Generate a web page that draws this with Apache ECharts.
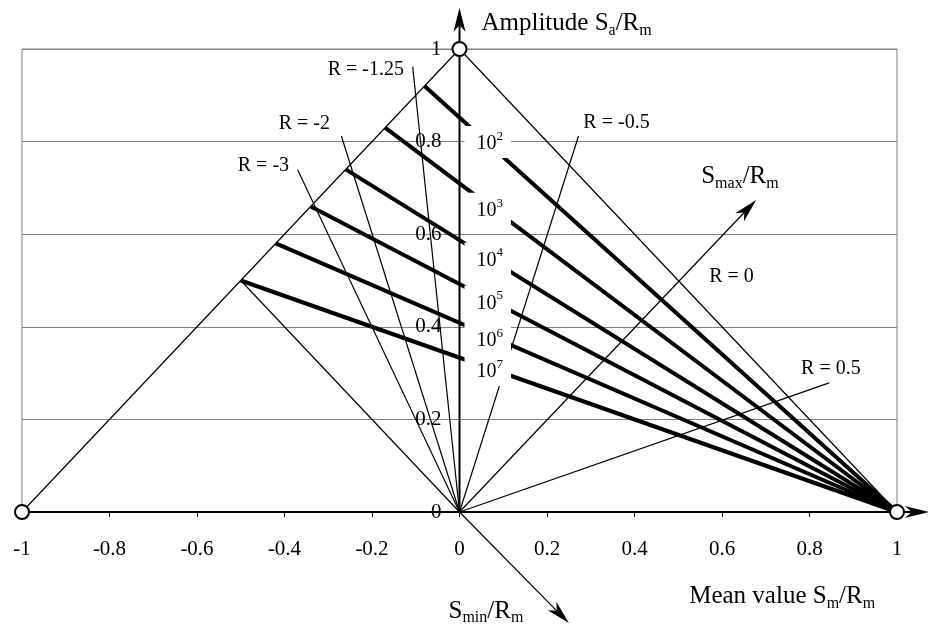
<!DOCTYPE html>
<html><head><meta charset="utf-8">
<script src="https://cdn.jsdelivr.net/npm/echarts@6/dist/echarts.min.js"></script>
<style>html,body{margin:0;padding:0;background:#fff}#c{width:930px;height:625px}</style>
</head><body><div id="c"></div>
<script>
// ---------- data ----------
const xRange = [-1, 1];
const yRange = [0, 1];
const tickStep = 0.2;
const yTickValues = [0, 0.2, 0.4, 0.6, 0.8, 1];
const yTickLabels = ['0', '0.2', '0.4', '0.6', '0.8', '1'];

// constant-life lines (10^n cycles): start on left edge, all end at (1,0)
const lifeExponents = ['2', '3', '4', '5', '6', '7'];
const lifeStarts = [[-0.08, 0.92], [-0.17, 0.83], [-0.26, 0.74], [-0.34, 0.66], [-0.42, 0.58], [-0.5, 0.5]];
const lifeEnd = [1, 0];
const lifeLabelAt = [[0.0114, 0.799], [0.0114, 0.655], [0.0114, 0.5475], [0.0114, 0.4546], [0.0114, 0.3737], [0.0114, 0.3067]];

// envelope triangle
const triangle = [[-1, 0], [0, 1], [1, 0]];

// stress-ratio rays from origin
const rayEnds = [[-0.107, 0.962], [-0.27, 0.812], [-0.37, 0.739], [0.272, 0.812], [0.845, 0.279]];
const smaxZeroRay = [[-0.5, 0.5], [0, 0]];
const rLabels = ['R = -1.25', 'R = -2', 'R = -3', 'R = -0.5', 'R = 0', 'R = 0.5'];
const rLabelAt = [[-0.3014, 0.9546], [-0.4132, 0.8387], [-0.5068, 0.7484], [0.2831, 0.8408], [0.5708, 0.5082], [0.7808, 0.3103]];

// arrows [x0, y0, x1, y1]
const axisArrows = [[0, 0, 0, 1.089], [-1, 0, 1.073, 0]];
const stressArrows = [[0, 0, 0.678, 0.674], [0, 0, 0.25, -0.24]];

// special points
const circles = [[-1, 0], [0, 1], [1, 0]];

// axis titles (rich text)
const titleTexts = ['Amplitude S{s|a}/R{s|m}', 'Mean value S{s|m}/R{s|m}', 'S{s|max}/R{s|m}', 'S{s|min}/R{s|m}'];
const titleAt = [[0.0502, 1.0547], [0.525, -0.1825], [0.5525, 0.7246], [-0.0251, -0.2138]];

// ---------- chart ----------
const FONT = 'Liberation Serif';
const chart = echarts.init(document.getElementById('c'), null, {renderer: 'canvas'});

function arrowRenderer(width) {
  return function (params, api) {
    const p0 = api.coord([api.value(0), api.value(1)]);
    const p1 = api.coord([api.value(2), api.value(3)]);
    const dx = p1[0] - p0[0], dy = p1[1] - p0[1];
    const len = Math.hypot(dx, dy);
    const ux = dx / len, uy = dy / len, nx = -uy, ny = ux;
    const L = 24, W = 6;
    const base = [p1[0] - ux * L, p1[1] - uy * L];
    const notch = [p1[0] - ux * L * 0.72, p1[1] - uy * L * 0.72];
    return {
      type: 'group',
      children: [
        {type: 'line', shape: {x1: p0[0], y1: p0[1], x2: notch[0], y2: notch[1]}, style: {stroke: '#000', lineWidth: width}},
        {type: 'polygon', shape: {points: [p1, [base[0] + nx * W, base[1] + ny * W], notch, [base[0] - nx * W, base[1] - ny * W]]}, style: {fill: '#000'}}
      ]
    };
  };
}

const thinLine = {color: '#000', width: 1.2};
const series = [];

series.push({type: 'line', data: triangle, symbol: 'none', clip: false, lineStyle: thinLine, z: 3, animation: false});
rayEnds.forEach(function (e) {
  series.push({type: 'line', data: [[0, 0], e], symbol: 'none', clip: false, lineStyle: thinLine, z: 3, animation: false});
});
series.push({type: 'line', data: smaxZeroRay, symbol: 'none', clip: false, lineStyle: thinLine, z: 3, animation: false});

lifeStarts.forEach(function (s) {
  series.push({type: 'line', data: [s, lifeEnd], symbol: 'none', clip: false, lineStyle: {color: '#000', width: 4}, z: 4, animation: false});
});

series.push({type: 'custom', coordinateSystem: 'cartesian2d', renderItem: arrowRenderer(2), data: axisArrows, encode: {x: [0, 2], y: [1, 3]}, z: 5, clip: false, animation: false});
series.push({type: 'custom', coordinateSystem: 'cartesian2d', renderItem: arrowRenderer(1.2), data: stressArrows, encode: {x: [0, 2], y: [1, 3]}, z: 5, clip: false, animation: false});

// y tick labels placed along x = 0
series.push({
  type: 'scatter', data: yTickValues.map(function (v) { return [0, v]; }), symbolSize: 0, clip: false, z: 6, animation: false, silent: true,
  itemStyle: {opacity: 1},
  label: {
    show: true, position: 'left', distance: 18,
    formatter: function (p) { return yTickLabels[p.dataIndex]; },
    fontFamily: FONT, fontSize: 21, color: '#000'
  }
});

// life labels with white boxes
series.push({
  type: 'scatter', data: lifeLabelAt, symbolSize: 0, clip: false, z: 10, animation: false, silent: true,
  itemStyle: {opacity: 1},
  label: {
    show: true, position: 'right', distance: 0,
    formatter: function (p) { return '{b|10}{s|' + lifeExponents[p.dataIndex] + '}'; },
    backgroundColor: '#fff', padding: [4, 8, 4, 12],
    rich: {
      b: {fontFamily: FONT, fontSize: 20, color: '#000', lineHeight: 24, verticalAlign: 'bottom'},
      s: {fontFamily: FONT, fontSize: 13, color: '#000', lineHeight: 14, verticalAlign: 'top'}
    }
  }
});

// R labels
series.push({
  type: 'scatter', data: rLabelAt, symbolSize: 0, clip: false, z: 10, animation: false, silent: true,
  itemStyle: {opacity: 1},
  label: {
    show: true, position: 'right', distance: 0,
    formatter: function (p) { return rLabels[p.dataIndex]; },
    fontFamily: FONT, fontSize: 20, color: '#000'
  }
});

// axis titles
series.push({
  type: 'scatter', data: titleAt, symbolSize: 0, clip: false, z: 10, animation: false, silent: true,
  itemStyle: {opacity: 1},
  label: {
    show: true, position: 'right', distance: 0,
    formatter: function (p) { return titleTexts[p.dataIndex]; },
    rich: {
      s: {fontFamily: FONT, fontSize: 16, color: '#000', lineHeight: 16, padding: [12, 0, 0, 0], verticalAlign: 'top'}
    },
    fontFamily: FONT, fontSize: 25, color: '#000', lineHeight: 26, verticalAlign: 'middle'
  }
});

// circles
series.push({
  type: 'scatter', data: circles, symbol: 'circle', symbolSize: 14, clip: false, z: 20, animation: false, silent: true,
  itemStyle: {color: '#fff', borderColor: '#000', borderWidth: 2, opacity: 1}
});

chart.setOption({
  animation: false,
  backgroundColor: '#fff',
  grid: {left: 22, right: 33, top: 49, bottom: 113, containLabel: false, outerBoundsMode: 'none', show: true, borderColor: '#808080', borderWidth: 1},
  xAxis: {
    type: 'value', min: xRange[0], max: xRange[1], interval: tickStep,
    axisLine: {show: true, onZero: false, lineStyle: {color: '#000', width: 2}},
    axisTick: {show: true, inside: false, length: 5, lineStyle: {color: '#000', width: 1}},
    axisLabel: {fontFamily: FONT, fontSize: 21, color: '#000', margin: 27},
    splitLine: {show: false}
  },
  yAxis: {
    type: 'value', min: yRange[0], max: yRange[1], interval: tickStep,
    axisLine: {show: false},
    axisTick: {show: false},
    axisLabel: {show: false},
    splitLine: {show: true, lineStyle: {color: '#808080', width: 1}}
  },
  series: series
});
</script>
</body></html>
